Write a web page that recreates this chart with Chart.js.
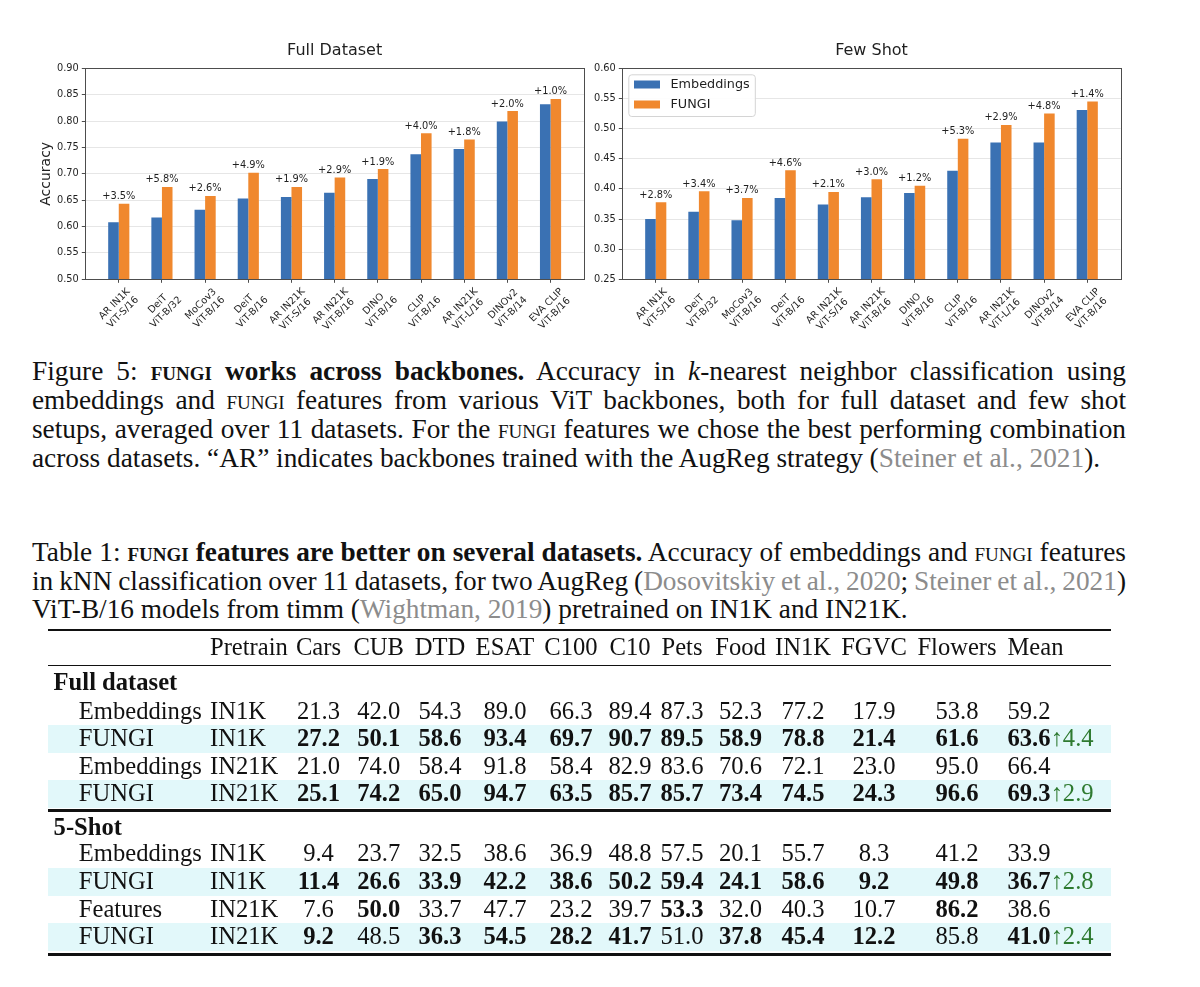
<!DOCTYPE html>
<html>
<head>
<meta charset="utf-8">
<script src="https://cdn.jsdelivr.net/npm/chart.js@4.4.1/dist/chart.umd.min.js"></script>
<style>
  html, body { margin: 0; padding: 0; background: #fff; }
  body { width: 1200px; height: 987px; position: relative; overflow: hidden;
         font-family: 'Liberation Serif', 'Times New Roman', serif; color: #111; }
  canvas { position: absolute; top: 0; }
  #fullChart { left: 0; }
  #fewChart { left: 560px; }
  .cap { position: absolute; left: 32px; width: 1094px; font-size: 27.3px; line-height: 28.7px; }
  .cap div { text-align: justify; text-align-last: justify; word-spacing: -3px; }
  .cap div.last { text-align-last: left; word-spacing: 0; }
  .sc { font-variant: small-caps; }
  .cite { color: #8c8c8c; }
  #table { position: absolute; left: 0; top: 0; width: 1200px; height: 987px; font-size: 24.6px; }
  .cell { position: absolute; line-height: 28px; white-space: nowrap; }
  .rule { position: absolute; left: 48px; width: 1063px; background: #111; }
  .band { position: absolute; left: 48px; width: 1063px; height: 28px; background: #e2f8fa; }
  .gain { color: #2e7a30; font-weight: normal; }
</style>
</head>
<body>
<canvas id="fullChart" width="600" height="345"></canvas>
<canvas id="fewChart" width="640" height="345"></canvas>

<div class="cap" style="top: 357.4px;">
  <div>Figure 5: <b><span class="sc">fungi</span> works across backbones.</b> Accuracy in <i>k</i>-nearest neighbor classification using</div>
  <div>embeddings and <span class="sc">fungi</span> features from various ViT backbones, both for full dataset and few shot</div>
  <div>setups, averaged over 11 datasets. For the <span class="sc">fungi</span> features we chose the best performing combination</div>
  <div class="last">across datasets. “AR” indicates backbones trained with the AugReg strategy (<span class="cite">Steiner et al., 2021</span>).</div>
</div>

<div class="cap" style="top: 538px;">
  <div>Table 1: <b><span class="sc">fungi</span> features are better on several datasets.</b> Accuracy of embeddings and <span class="sc">fungi</span> features</div>
  <div>in kNN classification over 11 datasets, for two AugReg (<span class="cite">Dosovitskiy et al., 2020</span>; <span class="cite">Steiner et al., 2021</span>)</div>
  <div class="last">ViT-B/16 models from timm (<span class="cite">Wightman, 2019</span>) pretrained on IN1K and IN21K.</div>
</div>

<div id="table"></div>

<script>
// ---- chart data ----
const backbones = [
  ['AR IN1K', 'ViT-S/16'], ['DeiT', 'ViT-B/32'], ['MoCov3', 'ViT-B/16'], ['DeiT', 'ViT-B/16'],
  ['AR IN21K', 'ViT-S/16'], ['AR IN21K', 'ViT-B/16'], ['DINO', 'ViT-B/16'], ['CLIP', 'ViT-B/16'],
  ['AR IN21K', 'ViT-L/16'], ['DINOv2', 'ViT-B/14'], ['EVA CLIP', 'ViT-B/16']
];
const fullEmbeddings = [0.608, 0.617, 0.632, 0.653, 0.656, 0.664, 0.690, 0.737, 0.747, 0.799, 0.832];
const fullFungi = [0.643, 0.675, 0.658, 0.702, 0.675, 0.693, 0.709, 0.777, 0.765, 0.819, 0.842];
const fullGain = [3.5, 5.8, 2.6, 4.9, 1.9, 2.9, 1.9, 4.0, 1.8, 2.0, 1.0];
const fewEmbeddings = [0.350, 0.362, 0.348, 0.385, 0.374, 0.386, 0.393, 0.430, 0.477, 0.477, 0.531];
const fewFungi = [0.378, 0.396, 0.385, 0.431, 0.395, 0.416, 0.405, 0.483, 0.506, 0.525, 0.545];
const fewGain = [2.8, 3.4, 3.7, 4.6, 2.1, 3.0, 1.2, 5.3, 2.9, 4.8, 1.4];
const fullTicks = [0.50, 0.55, 0.60, 0.65, 0.70, 0.75, 0.80, 0.85, 0.90];
const fewTicks = [0.25, 0.30, 0.35, 0.40, 0.45, 0.50, 0.55, 0.60];

// ---- table data ----
const tableHeader = ['Pretrain', 'Cars', 'CUB', 'DTD', 'ESAT', 'C100', 'C10', 'Pets', 'Food', 'IN1K', 'FGVC', 'Flowers', 'Mean'];
const tableGroups = ['Full dataset', '5-Shot'];
const rowMethod = ['Embeddings', 'FUNGI', 'Embeddings', 'FUNGI', 'Embeddings', 'FUNGI', 'Features', 'FUNGI'];
const rowPretrain = ['IN1K', 'IN1K', 'IN21K', 'IN21K', 'IN1K', 'IN1K', 'IN21K', 'IN21K'];
const rowValues = [
  [21.3, 42.0, 54.3, 89.0, 66.3, 89.4, 87.3, 52.3, 77.2, 17.9, 53.8, 59.2],
  [27.2, 50.1, 58.6, 93.4, 69.7, 90.7, 89.5, 58.9, 78.8, 21.4, 61.6, 63.6],
  [21.0, 74.0, 58.4, 91.8, 58.4, 82.9, 83.6, 70.6, 72.1, 23.0, 95.0, 66.4],
  [25.1, 74.2, 65.0, 94.7, 63.5, 85.7, 85.7, 73.4, 74.5, 24.3, 96.6, 69.3],
  [9.4, 23.7, 32.5, 38.6, 36.9, 48.8, 57.5, 20.1, 55.7, 8.3, 41.2, 33.9],
  [11.4, 26.6, 33.9, 42.2, 38.6, 50.2, 59.4, 24.1, 58.6, 9.2, 49.8, 36.7],
  [7.6, 50.0, 33.7, 47.7, 23.2, 39.7, 53.3, 32.0, 40.3, 10.7, 86.2, 38.6],
  [9.2, 48.5, 36.3, 54.5, 28.2, 41.7, 51.0, 37.8, 45.4, 12.2, 85.8, 41.0]
];
const ALL = [0, 1, 2, 3, 4, 5, 6, 7, 8, 9, 10, 11];
const rowBold = [[], ALL, [], ALL, [], ALL, [1, 6, 10], [0, 2, 3, 4, 5, 7, 8, 9, 11]];
const rowGain = [null, 4.4, null, 2.9, null, 2.8, null, 2.4];

// ---- chart styling ----
const BLUE = '#3a71b3';
const ORANGE = '#f0882e';
const TEXT = '#1f1f1f';
const AXIS = '#4d4d4d';
const GRID = '#e6e6e6';
const SANS = "'DejaVu Sans'";
const SMALL = 9.8;
Chart.defaults.font.family = SANS;
Chart.defaults.color = TEXT;

// frame, gain labels and rotated category labels
const decorations = {
  id: 'decorations',
  afterUpdate(chart) {
    const lg = chart.legend;
    if (lg && lg.options.display && !lg._ownDraw) {
      lg._ownDraw = lg.draw;
      lg.draw = function () {};
    }
  },
  afterDatasetsDraw(chart, args, opts) {
    const { ctx, chartArea: a } = chart;
    const xs = chart.scales.x;
    const orange = chart.getDatasetMeta(1).data;
    ctx.save();
    ctx.strokeStyle = AXIS;
    ctx.lineWidth = 1;
    ctx.strokeRect(Math.round(a.left) + 0.5, Math.round(a.top) + 0.5,
                   Math.round(a.right) - Math.round(a.left), Math.round(a.bottom) - Math.round(a.top));
    ctx.fillStyle = TEXT;
    ctx.font = SMALL + 'px ' + SANS;
    ctx.textAlign = 'center';
    ctx.textBaseline = 'alphabetic';
    opts.gain.forEach((g, i) => {
      ctx.fillText('+' + g.toFixed(1) + '%', xs.getPixelForValue(i), orange[i].y - 4.5);
    });
    // category labels, rotated 45 degrees and centred under each tick
    const lh = SMALL * 1.2;
    ctx.textBaseline = 'middle';
    backbones.forEach((lines, i) => {
      const x = xs.getPixelForValue(i);
      const w = Math.max(...lines.map(l => ctx.measureText(l).width));
      const h = lines.length * lh;
      const half = (w + h) / (2 * Math.SQRT2);
      ctx.save();
      ctx.translate(x, a.bottom + 3.5 + 3.0 + half);
      ctx.rotate(-Math.PI / 4);
      lines.forEach((l, j) => ctx.fillText(l, 0, (j - (lines.length - 1) / 2) * lh));
      ctx.restore();
    });
    // legend with a light frame, inside the plot
    const lg = chart.legend;
    if (lg && lg._ownDraw) {
      ctx.fillStyle = 'rgba(255,255,255,0.9)';
      ctx.strokeStyle = '#d4d4d4';
      ctx.beginPath();
      ctx.roundRect(a.left + 6.5, a.top + 6.5, 126.5, 41.7, 3);
      ctx.fill();
      ctx.stroke();
      const hb = lg.legendHitBoxes[0];
      ctx.translate(a.left + 11.7 - hb.left, a.top + 9.85 - hb.top);
      lg._ownDraw.call(lg);
    }
    ctx.restore();
  }
};

function makeChart(id, title, emb, fungi, gain, yTicks, cfg) {
  return new Chart(document.getElementById(id), {
    type: 'bar',
    data: {
      datasets: [
        { label: 'Embeddings', data: emb.map((v, i) => ({ x: i, y: v })), backgroundColor: BLUE,
          categoryPercentage: 0.49, barPercentage: 1.0 },
        { label: 'FUNGI', data: fungi.map((v, i) => ({ x: i, y: v })), backgroundColor: ORANGE,
          categoryPercentage: 0.49, barPercentage: 1.0 }
      ]
    },
    options: {
      responsive: false,
      animation: false,
      events: [],
      layout: { padding: { left: 0, right: cfg.padRight, top: 0, bottom: 0 } },
      scales: {
        x: {
          type: 'linear', min: -0.775, max: 10.775, offset: false,
          grid: { offset: false, drawOnChartArea: false, tickLength: 3.5, tickColor: AXIS },
          border: { display: false },
          ticks: { display: false },
          afterBuildTicks: s => { s.ticks = backbones.map((_, i) => ({ value: i })); },
          afterFit: s => { s.height = 65.7; }
        },
        y: {
          min: yTicks[0], max: yTicks[yTicks.length - 1],
          afterBuildTicks: s => { s.ticks = yTicks.map(v => ({ value: v })); },
          grid: { color: GRID, tickColor: AXIS, tickLength: 3.5 },
          border: { display: false },
          ticks: { padding: 3, color: TEXT, font: { size: SMALL }, callback: v => v.toFixed(2) },
          title: cfg.yTitle
            ? { display: true, text: cfg.yTitle, color: TEXT, font: { size: 14 }, padding: { top: 38.1, bottom: 0 } }
            : { display: false },
          afterFit: s => { s.width = cfg.yWidth; }
        }
      },
      plugins: {
        title: { display: true, text: title, fullSize: false, color: TEXT,
                 font: { size: 16, weight: 'normal' }, padding: { top: 40.9, bottom: 8.2 } },
        legend: cfg.legend
          ? { display: true, position: 'chartArea', align: 'start',
              labels: { boxWidth: 26, boxHeight: 8, padding: 7.1, color: TEXT, font: { size: 12.8 },
                        generateLabels: c => Chart.defaults.plugins.legend.labels.generateLabels(c)
                          .map(l => Object.assign(l, { text: ' ' + l.text })) } }
          : { display: false },
        tooltip: { enabled: false },
        decorations: { gain: gain }
      }
    },
    plugins: [decorations]
  });
}

makeChart('fullChart', 'Full Dataset', fullEmbeddings, fullFungi, fullGain, fullTicks,
          { yWidth: 85.3, padRight: 16, yTitle: 'Accuracy', legend: false });
makeChart('fewChart', 'Few Shot', fewEmbeddings, fewFungi, fewGain, fewTicks,
          { yWidth: 62.3, padRight: 79.3, yTitle: null, legend: true });

// ---- table ----
const T = document.getElementById('table');
const numX = [318.5, 378.7, 440, 505, 571, 630, 682, 740.5, 803, 874, 957];
const meanLeft = 1007.5;
const pretrainLeft = 210;
const methodLeft = 78.8;
const groupLeft = 53.6;
const headerY = 646.7;
const groupY = [682, 827];
const rowY = [710.7, 738.3, 765.5, 793.3, 853.3, 881, 909, 936];

function put(html, x, y, centred, bold) {
  const s = document.createElement('span');
  s.className = 'cell';
  s.innerHTML = html;
  s.style.left = x + 'px';
  s.style.top = (y - 14) + 'px';
  if (centred) s.style.transform = 'translateX(-50%)';
  if (bold) s.style.fontWeight = 'bold';
  T.appendChild(s);
}
function rule(y, t) {
  const d = document.createElement('div');
  d.className = 'rule';
  d.style.top = (y - t / 2) + 'px';
  d.style.height = t + 'px';
  T.appendChild(d);
}

rowY.forEach((y, r) => {
  if (rowGain[r] !== null) {
    const b = document.createElement('div');
    b.className = 'band';
    b.style.top = (y - 13) + 'px';
    T.appendChild(b);
  }
});
rule(630, 2.7);
rule(665.7, 1.5);
rule(810.5, 2.7);
rule(954.3, 2.7);

put(tableHeader[0], pretrainLeft, headerY, false, false);
tableHeader.slice(1, 12).forEach((h, i) => put(h, numX[i], headerY, true, false));
put(tableHeader[12], meanLeft, headerY, false, false);
tableGroups.forEach((g, i) => put(g, groupLeft, groupY[i], false, true));

rowValues.forEach((vals, r) => {
  const y = rowY[r];
  put(rowMethod[r], methodLeft, y, false, false);
  put(rowPretrain[r], pretrainLeft, y, false, false);
  vals.forEach((v, c) => {
    const bold = rowBold[r].includes(c);
    if (c < 11) {
      put(v.toFixed(1), numX[c], y, true, bold);
    } else {
      let html = bold ? '<b>' + v.toFixed(1) + '</b>' : v.toFixed(1);
      if (rowGain[r] !== null) html += '<span class="gain">↑' + rowGain[r].toFixed(1) + '</span>';
      put(html, meanLeft, y, false, false);
    }
  });
});
</script>
</body>
</html>
